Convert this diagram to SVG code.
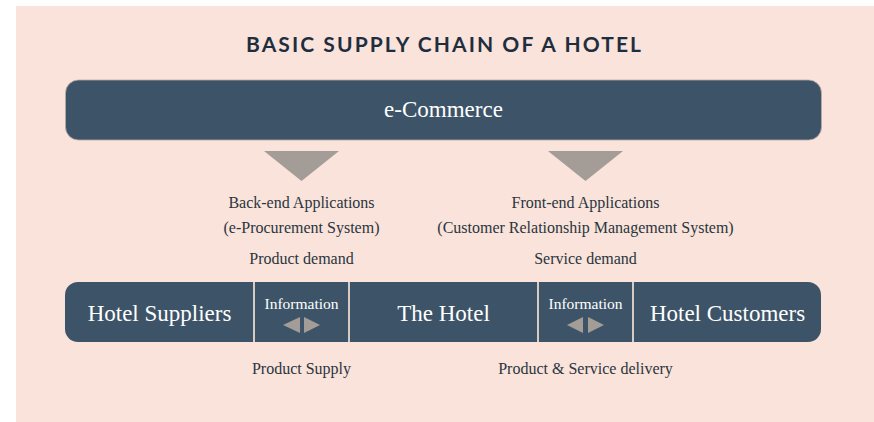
<svg xmlns="http://www.w3.org/2000/svg" width="874" height="422" viewBox="0 0 874 422">
  <style>
    .bg { fill: #f9e3da; }
    .box { fill: #3d5468; }
    .tri { fill: #a39c97; }
    .div { stroke: #d8cbc4; stroke-width: 2; }
    .title { font-family: "Lato", "Liberation Sans", sans-serif; font-weight: bold; font-size: 21px; fill: #1f2e3f; text-anchor: middle; }
    .big { font-family: "Liberation Serif", serif; font-size: 23px; fill: #ffffff; text-anchor: middle; }
    .info { font-family: "Liberation Serif", serif; font-size: 15.5px; fill: #ffffff; text-anchor: middle; }
    .lbl { font-family: "Liberation Serif", serif; font-size: 16px; fill: #2b3540; text-anchor: middle; }
  </style>
  <rect class="bg" x="16" y="6" width="858" height="416"/>
  <g id="title">
    <text class="title" x="443.5" y="52" textLength="395" lengthAdjust="spacing">BASIC SUPPLY CHAIN OF A HOTEL</text>
  </g>
  <g id="ecommerce">
    <rect class="box" x="65.5" y="80" width="756" height="60" rx="13" stroke="#b9aca6" stroke-width="0.8"/>
    <text class="big" x="443.5" y="117">e-Commerce</text>
  </g>
  <g id="backend-label">
    <text class="lbl" x="301.5" y="208">Back-end Applications</text>
    <text class="lbl" x="301.5" y="233">(e-Procurement System)</text>
    <text class="lbl" x="301.5" y="264">Product demand</text>
  </g>
  <g id="frontend-label">
    <text class="lbl" x="585.5" y="208">Front-end Applications</text>
    <text class="lbl" x="585.5" y="233">(Customer Relationship Management System)</text>
    <text class="lbl" x="585.5" y="264">Service demand</text>
  </g>
  <g id="dividers">
    <line class="div" x1="254" y1="282" x2="254" y2="342"/>
    <line class="div" x1="349" y1="282" x2="349" y2="342"/>
    <line class="div" x1="538" y1="282" x2="538" y2="342"/>
    <line class="div" x1="633" y1="282" x2="633" y2="342"/>
  </g>
  <g id="hotel-suppliers">
    <path class="box" d="M78,282 H253 V342 H78 A13,13 0 0 1 65,329 V295 A13,13 0 0 1 78,282 Z"/>
    <text class="big" x="159.5" y="320.5">Hotel Suppliers</text>
  </g>
  <g id="information-1">
    <rect class="box" x="255" y="282" width="93" height="60"/>
    <text class="info" x="301.5" y="309">Information</text>
  </g>
  <g id="the-hotel">
    <rect class="box" x="350" y="282" width="187" height="60"/>
    <text class="big" x="443.5" y="320.5">The Hotel</text>
  </g>
  <g id="information-2">
    <rect class="box" x="539" y="282" width="93" height="60"/>
    <text class="info" x="585.5" y="309">Information</text>
  </g>
  <g id="hotel-customers">
    <path class="box" d="M634,282 H808 A13,13 0 0 1 821,295 V329 A13,13 0 0 1 808,342 H634 Z"/>
    <text class="big" x="727.5" y="320.5">Hotel Customers</text>
  </g>
  <g id="bottom-labels">
    <text class="lbl" x="301.5" y="374">Product Supply</text>
    <text class="lbl" x="585.5" y="374">Product &amp; Service delivery</text>
  </g>
  <g id="connectors">
    <polygon class="tri" points="264,151 339,151 301.5,181"/>
    <polygon class="tri" points="548,151 623,151 585.5,181"/>
    <polygon class="tri" points="300,317 300,333 283,325"/>
    <polygon class="tri" points="304,317 304,333 320,325"/>
    <polygon class="tri" points="583,317 583,333 567,325"/>
    <polygon class="tri" points="588,317 588,333 604,325"/>
  </g>
</svg>
